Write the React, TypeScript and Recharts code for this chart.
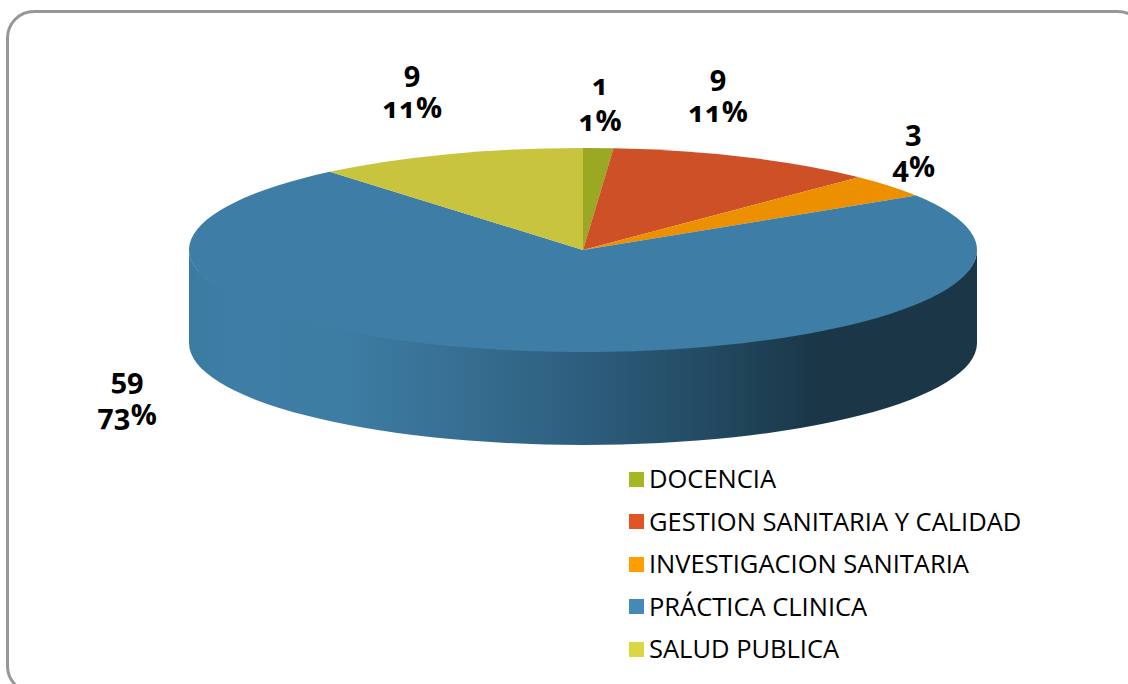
import { Legend, Pie, PieChart } from "recharts";

const categories = [
    "DOCENCIA",
    "GESTION SANITARIA Y CALIDAD",
    "INVESTIGACION SANITARIA",
    "PRÁCTICA CLINICA",
    "SALUD PUBLICA",
];
const values = [1, 9, 3, 59, 9];
const sliceColors = ["#9aa823", "#cd5026", "#ec9000", "#3e7ea6", "#c8c43e"];
const legendColors = ["#a5b822", "#e25426", "#ff9e00", "#438ab5", "#dbd644"];

// nudge of each label from the rim point of its slice
const labelNudges = [
    [2, -60],
    [-28, -78],
    [24, -52],
    [-395, 31],
    [-36, -79],
];

const data = categories.map((name, i) => ({ name, value: values[i], fill: sliceColors[i] }));

const CX = 583;
const CY = 250;
const RX = 394;
const RY = 102;
const DEPTH = 93;
const FONT = "'Open Sans', Lato, sans-serif";

const rad = (deg: number) => (deg * Math.PI) / 180;
const rimX = (deg: number, r: number, cx: number) => cx + r * Math.cos(rad(deg));
const rimY = (deg: number, r: number, cy: number) => cy - (r * RY / RX) * Math.sin(rad(deg));

function Slice3D(props: any) {
    const { cx, cy, outerRadius: r, startAngle, endAngle, fill } = props;
    const ry = (r * RY) / RX;
    const x0 = rimX(startAngle, r, cx);
    const y0 = rimY(startAngle, r, cy);
    const x1 = rimX(endAngle, r, cx);
    const y1 = rimY(endAngle, r, cy);
    const large = Math.abs(startAngle - endAngle) > 180 ? 1 : 0;
    const top = `M${cx},${cy} L${x0},${y0} A${r},${ry} 0 ${large} 1 ${x1},${y1} Z`;

    // only the front half of the rim shows a wall, tucked 2px under the top to hide the seam
    const wallStart = Math.min(startAngle, 0);
    const wallEnd = Math.max(endAngle, -180);
    let wall = null;
    if (wallStart > wallEnd) {
        const ax = rimX(wallStart, r, cx);
        const ay = rimY(wallStart, r, cy);
        const bx = rimX(wallEnd, r, cx);
        const by = rimY(wallEnd, r, cy);
        wall = `M${ax},${ay} A${r},${ry - 2} 0 0 1 ${bx},${by} L${bx},${by + DEPTH} A${r},${ry} 0 0 0 ${ax},${ay + DEPTH} Z`;
    }

    return (
        <g>
            {wall && (
                <>
                    <defs>
                        <linearGradient id="wallShade" gradientUnits="userSpaceOnUse" x1={CX - RX} x2={CX + RX} y1={0} y2={0}>
                            <stop offset="0" stopColor="#3b7aa1" />
                            <stop offset="0.05" stopColor="#3e7ea6" />
                            <stop offset="0.2" stopColor="#3d7ca3" />
                            <stop offset="0.34" stopColor="#376f92" />
                            <stop offset="0.5" stopColor="#2d5e7e" />
                            <stop offset="0.65" stopColor="#234b63" />
                            <stop offset="0.8" stopColor="#1a3647" />
                            <stop offset="1" stopColor="#1a3647" />
                        </linearGradient>
                    </defs>
                    <path d={wall} fill="url(#wallShade)" />
                </>
            )}
            <path d={top} fill={fill} />
        </g>
    );
}

function renderLabel(props: any) {
    const { cx, cy, outerRadius, midAngle, value, percent, index } = props;
    const x = rimX(midAngle, outerRadius, cx) + labelNudges[index][0];
    const y = rimY(midAngle, outerRadius, cy) + labelNudges[index][1];
    return (
        <text
            x={x}
            y={y}
            textAnchor="middle"
            fontFamily={FONT}
            fontWeight={700}
            fontSize={29}
            fill="#000"
            style={{ fontFeatureSettings: '"onum"' }}
        >
            <tspan x={x} dy={7}>{value}</tspan>
            <tspan x={x} dy={36}>{`${Math.round(percent * 100)}%`}</tspan>
        </text>
    );
}

function renderLegend({ payload }: any) {
    return (
        <div style={{ fontFamily: FONT, fontSize: 25.5, color: "#000" }}>
            {payload.map((entry: any, i: number) => (
                <div key={entry.value} style={{ display: "flex", alignItems: "center", height: 42.5 }}>
                    <span style={{ width: 15, height: 15, marginRight: 5, background: legendColors[i] }} />
                    <span style={{ whiteSpace: "nowrap", position: "relative", top: -1 }}>{entry.value}</span>
                </div>
            ))}
        </div>
    );
}

export default function App() {
    return (
        <div style={{ position: "absolute", left: 0, top: 0, width: 1128, height: 684, overflow: "hidden", background: "#fff" }}>
            <div
                style={{
                    position: "absolute",
                    left: 6,
                    top: 10,
                    width: 1140,
                    height: 684,
                    border: "3px solid #979797",
                    borderRadius: 28,
                    boxSizing: "border-box",
                }}
            />
            <div style={{ position: "absolute", left: 0, top: 0 }}>
                <PieChart width={1128} height={684} margin={{ top: 0, right: 0, bottom: 0, left: 0 }}>
                    <Pie
                        data={data}
                        dataKey="value"
                        nameKey="name"
                        cx={CX}
                        cy={CY}
                        innerRadius={0}
                        outerRadius={RX}
                        startAngle={90}
                        endAngle={-270}
                        stroke="none"
                        isAnimationActive={false}
                        shape={Slice3D}
                        label={renderLabel}
                        labelLine={false}
                    />
                    <Legend content={renderLegend} wrapperStyle={{ left: 629, top: 458, width: 480, bottom: "auto" }} />
                </PieChart>
            </div>
        </div>
    );
}
